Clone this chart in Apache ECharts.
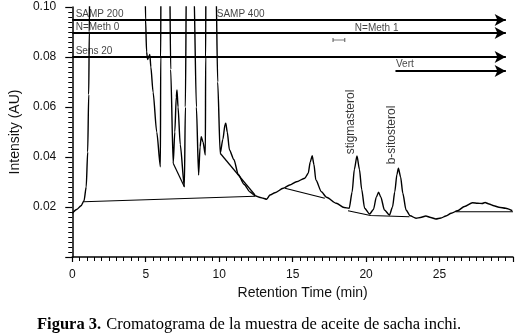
<!DOCTYPE html>
<html>
<head>
<meta charset="utf-8">
<script src="https://cdn.jsdelivr.net/npm/echarts@6/dist/echarts.min.js"></script>
<style>
  html, body { margin: 0; padding: 0; background: #fff; }
  #chart { width: 516px; height: 335px; }
</style>
</head>
<body>
<div id="chart"></div>
<script>
// Datos del cromatograma: [tiempo (min), intensidad (AU)]
const trace = [
    [0, 0.0175], [0.3, 0.019], [0.6, 0.0205], [0.8, 0.0225], [0.95, 0.028], [1.05, 0.042],
    [1.12, 0.065], [1.16, 0.09], [1.2, 0.12], [1.3, 0.3], [4.8, 0.3], [4.94, 0.12],
    [4.99, 0.095], [5.06, 0.082], [5.13, 0.079], [5.2, 0.08], [5.28, 0.081], [5.35, 0.076],
    [5.5, 0.066], [5.75, 0.05], [6.0, 0.0361], [6.02, 0.08], [6.04, 0.12], [6.1, 0.3],
    [6.55, 0.3], [6.62, 0.12], [6.7, 0.075], [6.87, 0.0375], [6.98, 0.05], [7.08, 0.064],
    [7.13, 0.0668], [7.2, 0.06], [7.35, 0.045], [7.63, 0.0281], [7.7, 0.06], [7.78, 0.12],
    [7.85, 0.3], [8.2, 0.3], [8.27, 0.11], [8.45, 0.06], [8.6, 0.0328], [8.7, 0.044],
    [8.78, 0.0481], [8.9, 0.046], [9.06, 0.0408], [9.08, 0.08], [9.1, 0.12], [9.15, 0.3],
    [9.7, 0.3], [9.78, 0.11], [9.9, 0.07], [10.07, 0.0415], [10.25, 0.047], [10.4, 0.053],
    [10.45, 0.0535], [10.55, 0.05], [10.7, 0.0428], [11.0, 0.039], [11.3, 0.033], [11.7, 0.029],
    [12.1, 0.026], [12.44, 0.0245], [12.8, 0.0238], [13.0, 0.0235], [13.23, 0.0231], [13.46, 0.0248],
    [13.8, 0.0257], [14.36, 0.0275], [14.8, 0.0288], [15.26, 0.0301], [15.83, 0.0315], [16.06, 0.0335],
    [16.2, 0.038], [16.33, 0.0405], [16.45, 0.037], [16.58, 0.0308], [16.96, 0.0261], [17.3, 0.0239],
    [17.97, 0.0215], [18.5, 0.0198], [18.85, 0.0195], [19.05, 0.026], [19.2, 0.035], [19.38, 0.0404],
    [19.55, 0.035], [19.7, 0.027], [19.9, 0.0195], [20.24, 0.0172], [20.5, 0.019], [20.7, 0.024],
    [20.85, 0.0259], [21.0, 0.024], [21.25, 0.0188], [21.59, 0.0168], [21.8, 0.02], [21.95, 0.026],
    [22.1, 0.033], [22.2, 0.0355], [22.35, 0.032], [22.5, 0.0255], [22.72, 0.0188], [23.0, 0.0165],
    [23.4, 0.0155], [23.7, 0.0158], [24.07, 0.0164], [24.4, 0.0158], [24.75, 0.0152], [25.1, 0.0156],
    [25.43, 0.0164], [25.8, 0.0175], [26.22, 0.0185], [26.7, 0.0202], [27.24, 0.0217], [27.6, 0.0215],
    [27.9, 0.0214], [28.1, 0.0218], [28.37, 0.0212], [28.7, 0.0205], [29.04, 0.0199], [29.5, 0.0195],
    [29.95, 0.0185]
];

// Líneas base de integración
const baselines = [
    [[0.77, 0.0221], [12.44, 0.0243]],
    [[6.87, 0.0375], [7.63, 0.0281]],
    [[10.07, 0.0415], [12.44, 0.0248]],
    [[14.48, 0.0275], [17.19, 0.0235]],
    [[18.77, 0.0185], [20.3, 0.0166], [22.95, 0.0161]],
    [[26.1, 0.0181], [30.0, 0.0181]]
];

// Líneas de eventos con flecha: [inicio, fin, intensidad]
const eventLines = [
    [0, 29.5, 0.0948],
    [0, 29.5, 0.0896],
    [0, 29.5, 0.0800],
    [22.0, 29.5, 0.0744]
];

// Textos de eventos: [tiempo, intensidad, texto]
const eventTexts = [
    [0.2, 0.0972, 'SAMP 200'],
    [9.8, 0.0972, 'SAMP 400'],
    [0.2, 0.0920, 'N=Meth 0'],
    [19.2, 0.0916, 'N=Meth 1'],
    [0.2, 0.0822, 'Sens 20'],
    [22.0, 0.0772, 'Vert']
];

// Picos identificados: [tiempo, intensidad, nombre]
const peakNames = [
    [18.97, 0.054, 'stigmasterol'],
    [21.75, 0.0488, 'b-sitosterol']
];

const widthMark = [[17.75, 0.0868], [18.55, 0.0868]];

const xTicks = [0, 5, 10, 15, 20, 25];
const yTicks = [0.02, 0.04, 0.06, 0.08, 0.10];

const font = 'Liberation Sans, Arial, sans-serif';
const serif = 'Liberation Serif, Times New Roman, serif';
const chart = echarts.init(document.getElementById('chart'));

let series = [];

series.push({
    name: 'trace', type: 'line', data: trace, showSymbol: false, symbol: 'none',
    smooth: 0.25, smoothMonotone: 'x', clip: true,
    lineStyle: { color: '#000', width: 1.4 }, z: 3
});

baselines.forEach(seg => {
    series.push({
        type: 'line', data: seg, symbol: 'none', clip: true,
        lineStyle: { color: '#000', width: 1.2 }, z: 2
    });
});

eventLines.forEach(l => {
    series.push({
        type: 'line', data: [[l[0], l[2]], [l[1], l[2]]], symbol: 'none',
        lineStyle: { color: '#000', width: 1.8 },
        markLine: {
            silent: true, symbol: ['none', 'arrow'], symbolSize: [9, 11],
            label: { show: false },
            lineStyle: { color: '#000', width: 1.8, type: 'solid' },
            data: [[{ coord: [l[1] - 0.3, l[2]] }, { coord: [l[1], l[2]] }]]
        }
    });
});

series.push({
    type: 'line', data: widthMark, symbol: 'rect', symbolSize: [1, 4],
    itemStyle: { color: '#555' }, lineStyle: { color: '#555', width: 0.8 }
});

series.push({
    type: 'scatter', symbolSize: 1, itemStyle: { color: 'transparent' },
    data: eventTexts.map(d => ({ value: [d[0], d[1]], name: d[2] })),
    label: {
        show: true, position: 'right', distance: 0, formatter: '{b}',
        fontFamily: font, fontSize: 10, color: '#111'
    }
});

series.push({
    type: 'scatter', symbolSize: 1, itemStyle: { color: 'transparent' },
    data: peakNames.map(d => ({ value: [d[0], d[1]], name: d[2] })),
    label: {
        show: true, position: 'inside', rotate: 90, formatter: '{b}',
        fontFamily: font, fontSize: 12, color: '#000'
    }
});

chart.setOption({
    animation: false,
    title: {
        text: '{b|Figura 3.} {n|Cromatograma de la muestra de aceite de sacha inchi.}',
        left: 32, top: 311,
        textStyle: {
            fontWeight: 'normal',
            rich: {
                b: { fontFamily: serif, fontSize: 16.5, fontWeight: 'bold', color: '#000' },
                n: { fontFamily: serif, fontSize: 16.5, fontWeight: 'normal', color: '#000' }
            }
        }
    },
    grid: { left: 68, right: 3, top: 7, bottom: 78, containLabel: false },
    xAxis: {
        type: 'value', min: 0, max: 30, interval: 5,
        name: 'Retention Time (min)', nameLocation: 'middle', nameGap: 27,
        nameTextStyle: { fontFamily: font, fontSize: 14, color: '#111', padding: [0, 0, 0, 20] },
        axisLine: { lineStyle: { color: '#000', width: 1.5 } },
        axisTick: { inside: false, length: 5, lineStyle: { color: '#000', width: 1.2 } },
        minorTick: { show: true, splitNumber: 10, length: 4, lineStyle: { color: '#000', width: 1 } },
        axisLabel: {
            margin: 12, fontFamily: font, fontSize: 12, color: '#111',
            formatter: v => xTicks.indexOf(v) >= 0 ? String(v) : ''
        },
        splitLine: { show: false }
    },
    yAxis: {
        type: 'value', min: 0, max: 0.1, interval: 0.02,
        name: 'Intensity (AU)', nameLocation: 'middle', nameGap: 50,
        nameTextStyle: { fontFamily: font, fontSize: 14, color: '#111' },
        axisLine: { show: true, lineStyle: { color: '#000', width: 1.5 } },
        axisTick: { show: true, inside: false, length: 7, lineStyle: { color: '#000', width: 1.2 } },
        minorTick: { show: true, splitNumber: 10, length: 4, lineStyle: { color: '#000', width: 1 } },
        axisLabel: {
            margin: 16, fontFamily: font, fontSize: 12, color: '#111',
            formatter: v => {
                let t = yTicks.find(k => Math.abs(k - v) < 1e-9);
                return t ? t.toFixed(2) : '';
            }
        },
        splitLine: { show: false }
    },
    series: series
});
</script>
</body>
</html>
